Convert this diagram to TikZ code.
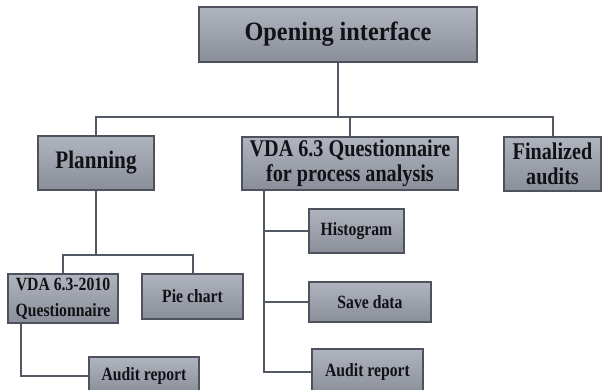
\documentclass[tikz,border=0pt]{standalone}
\usepackage{fontspec}
\newfontfamily\boxfont[FakeStretch=0.84]{Liberation Serif Bold}
\newfontfamily\titlefont[FakeStretch=0.92]{Liberation Serif Bold}
\definecolor{boxtop}{RGB}{176,180,190}
\definecolor{boxbot}{RGB}{138,142,152}
\definecolor{boxline}{RGB}{78,82,92}
\definecolor{connline}{RGB}{82,88,100}
\definecolor{txt}{RGB}{18,18,22}
\tikzset{
  box/.style={draw=boxline, line width=1.3pt, top color=boxtop, bottom color=boxbot,
    inner sep=0pt, align=center, text=txt},
  big/.style={box, font=\boxfont\fontsize{24}{25}\selectfont},
  small/.style={box, font=\boxfont\fontsize{18.7}{26}\selectfont},
  conn/.style={draw=connline, line width=2pt}
}
\begin{document}
\begin{tikzpicture}[x=1pt,y=-1pt]
\clip (0,0) rectangle (602,389);
\fill[white] (0,0) rectangle (602,389);
% nodes
\node[box, font=\titlefont\fontsize{26.4}{30}\selectfont, minimum width=278pt, minimum height=55pt] (top) at (338,34.5) {Opening interface};
\node[big, font=\boxfont\fontsize{25.2}{26}\selectfont, minimum width=116pt, minimum height=54pt] (plan) at (96,163) {Planning};
\node[big, minimum width=216pt, minimum height=53pt] (vda) at (350,163.5) {VDA 6.3 Questionnaire\\for process analysis};
\node[big, minimum width=97pt, minimum height=54pt] (final) at (552.5,164) {Finalized\\audits};
\node[small, minimum width=110pt, minimum height=49pt] (vdaq) at (63,298.5) {VDA 6.3-2010\\Questionnaire};
\node[small, minimum width=101pt, minimum height=45pt] (pie) at (192.5,296.5) {Pie chart};
\node[small, minimum width=110pt, minimum height=37pt] (auda) at (144,375.5) {Audit report};
\node[small, minimum width=95pt, minimum height=44pt] (hist) at (356.5,231) {Histogram};
\node[small, minimum width=122pt, minimum height=40pt] (save) at (370,302) {Save data};
\node[small, minimum width=111pt, minimum height=45pt] (audb) at (367.5,371.5) {Audit report};
% connectors
\coordinate (bus) at (338,117);
\coordinate (sbus) at (96,255);
\coordinate (lq) at (21,323);
\coordinate (trunk) at (264,190);
\draw[conn] (top.south) -- (bus);
\draw[conn] (plan.north) |- (bus) -| (final.north);
\draw[conn] (bus) -| (vda.north);
\draw[conn] (plan.south) -- (sbus);
\draw[conn] (vdaq.north) |- (sbus) -| (pie.north);
\draw[conn] (lq) |- (auda.west);
\draw[conn] (trunk) |- (hist.west);
\draw[conn] (trunk) |- (save.west);
\draw[conn] (trunk) |- (audb.west);
\end{tikzpicture}
\end{document}
